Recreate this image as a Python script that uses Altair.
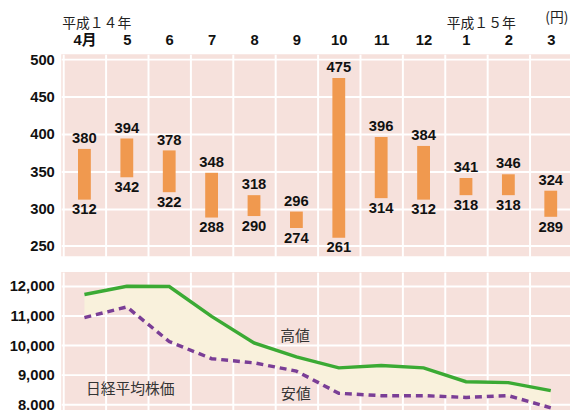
import altair as alt
import pandas as pd

months = ["4月", "5", "6", "7", "8", "9", "10", "11", "12", "1", "2", "3"]
stock_high = [380, 394, 378, 348, 318, 296, 475, 396, 384, 341, 346, 324]
stock_low = [312, 342, 322, 288, 290, 274, 261, 314, 312, 318, 318, 289]
nikkei_high = [11710, 11990, 11980, 10970, 10070, 9600, 9230, 9310, 9230, 8760, 8730, 8460]
nikkei_low = [10930, 11290, 10120, 9540, 9400, 9120, 8370, 8290, 8290, 8230, 8290, 7880]

df = pd.DataFrame({
    "month": months,
    "hi": stock_high,
    "lo": stock_low,
    "nhi": nikkei_high,
    "nlo": nikkei_low,
})

PINK = "#F6E1DC"
NUMFONT = "Liberation Sans, Noto Sans CJK JP"
CJK = "Noto Sans CJK JP"

xscale = alt.Scale(domain=months, paddingInner=0, paddingOuter=0.047)

x_top_axis = alt.Axis(orient="top", labelAngle=0, labelFont=NUMFONT, labelFontSize=15,
                      labelFontWeight="bold", labelColor="#111", labelPadding=7,
                      ticks=False, domain=False, grid=True, gridColor="white",
                      gridWidth=2, tickBand="extent")
x_bot_axis = alt.Axis(labels=False, ticks=False, domain=False, grid=True,
                      gridColor="white", gridWidth=2, tickBand="extent")


def xt():
    return alt.X("month:N", sort=months, scale=xscale, title=None, axis=x_top_axis)


def xb():
    return alt.X("month:N", sort=months, scale=xscale, title=None, axis=x_bot_axis)


y_top_scale = alt.Scale(domain=[236, 507], nice=False, zero=False)
y_top_axis = alt.Axis(values=[250, 300, 350, 400, 450, 500], labelFont=NUMFONT,
                      labelFontSize=15, labelFontWeight="bold", labelColor="#111",
                      labelPadding=7, ticks=False, domain=False, grid=True,
                      gridColor="white", gridWidth=2, title=None)

base_top = alt.Chart(df)
bars = base_top.mark_bar(color="#F0994F", width=13).encode(
    x=xt(),
    y=alt.Y("lo:Q", scale=y_top_scale, axis=y_top_axis),
    y2="hi:Q",
)
lab_hi = base_top.mark_text(font=NUMFONT, fontSize=15, fontWeight="bold",
                            baseline="bottom", dy=-3, color="#111").encode(
    x=xt(),
    y=alt.Y("hi:Q", scale=y_top_scale, axis=y_top_axis),
    text="hi:Q",
)
lab_lo = base_top.mark_text(font=NUMFONT, fontSize=15, fontWeight="bold",
                            baseline="top", dy=3, color="#111").encode(
    x=xt(),
    y=alt.Y("lo:Q", scale=y_top_scale, axis=y_top_axis),
    text="lo:Q",
)

h1 = alt.Chart(pd.DataFrame({"t": ["平成１４年"]})).mark_text(
    font=CJK, fontSize=14, align="left", baseline="middle", color="#222"
).encode(text="t:N", x=alt.value(1), y=alt.value(-31))
h2 = alt.Chart(pd.DataFrame({"t": ["平成１５年"]})).mark_text(
    font=CJK, fontSize=14, align="left", baseline="middle", color="#222"
).encode(text="t:N", x=alt.value(391), y=alt.value(-31))
h3 = alt.Chart(pd.DataFrame({"t": ["(円)"]})).mark_text(
    font=CJK, fontSize=14, align="left", baseline="middle", color="#222"
).encode(text="t:N", x=alt.value(491), y=alt.value(-37))

top = alt.layer(bars, lab_hi, lab_lo, h1, h2, h3).properties(width=520, height=205)

y_bot_scale = alt.Scale(domain=[7534, 12467], nice=False, zero=False)
y_bot_axis = alt.Axis(values=[8000, 9000, 10000, 11000, 12000],
                      labelExpr="format(datum.value, ',')",
                      labelFont=NUMFONT, labelFontSize=15, labelFontWeight="bold",
                      labelColor="#111", labelPadding=7, ticks=False, domain=False,
                      grid=True, gridColor="white", gridWidth=2, title=None)

base_bot = alt.Chart(df)
area = base_bot.mark_area(color="#F9F1DC", opacity=1).encode(
    x=xb(),
    y=alt.Y("nlo:Q", scale=y_bot_scale, axis=y_bot_axis, stack=None),
    y2="nhi:Q",
)
line_hi = base_bot.mark_line(color="#3BAA34", strokeWidth=3.5).encode(
    x=xb(),
    y=alt.Y("nhi:Q", scale=y_bot_scale, axis=y_bot_axis),
)
line_lo = base_bot.mark_line(color="#7A3E96", strokeWidth=3.5, strokeDash=[7, 5]).encode(
    x=xb(),
    y=alt.Y("nlo:Q", scale=y_bot_scale, axis=y_bot_axis),
)
a1 = alt.Chart(pd.DataFrame({"t": ["高値"]})).mark_text(
    font=CJK, fontSize=15, align="left", baseline="middle", color="#333"
).encode(text="t:N", x=alt.value(222), y=alt.value(65))
a2 = alt.Chart(pd.DataFrame({"t": ["安値"]})).mark_text(
    font=CJK, fontSize=15, align="left", baseline="middle", color="#333"
).encode(text="t:N", x=alt.value(223), y=alt.value(124))
a3 = alt.Chart(pd.DataFrame({"t": ["日経平均株価"]})).mark_text(
    font=CJK, fontSize=15, align="left", baseline="middle", color="#333"
).encode(text="t:N", x=alt.value(25), y=alt.value(119))

bottom = alt.layer(area, line_hi, line_lo, a1, a2, a3).properties(width=520, height=148)

chart = alt.vconcat(top, bottom, spacing=16, bounds="flush").properties(
    autosize=alt.AutoSizeParams(type="none"),
    padding={"left": 54, "top": 44, "right": -4, "bottom": 358},
).configure_view(fill=PINK, stroke=None)

chart.save("out.html", embed_options={"renderer": "svg", "actions": False})
